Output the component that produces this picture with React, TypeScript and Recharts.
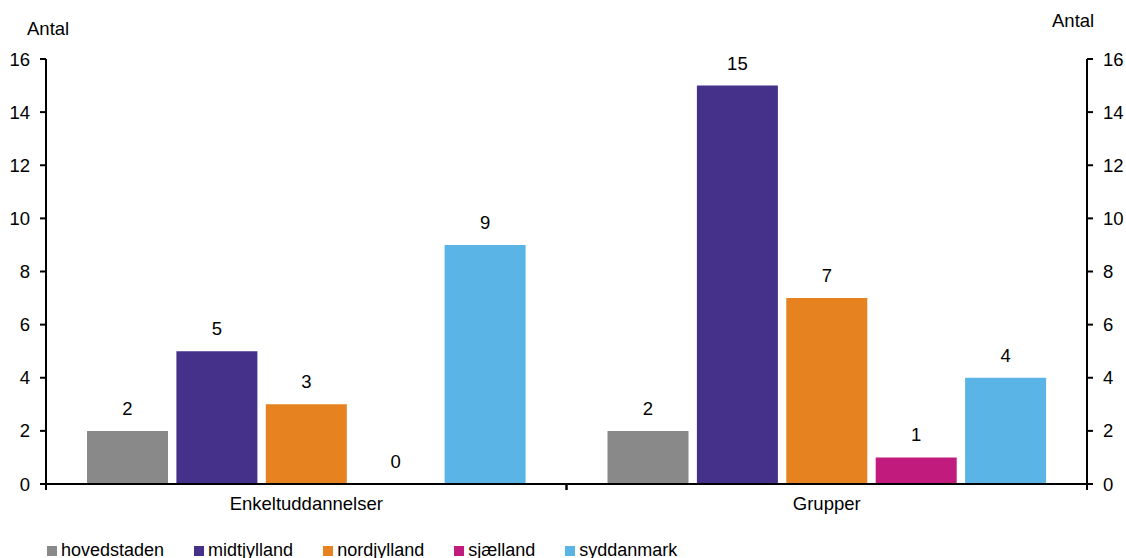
import React from 'react';
import { BarChart, Bar, XAxis, YAxis, LabelList } from 'recharts';

const categories = ['Enkeltuddannelser', 'Grupper'];
const seriesNames = ['hovedstaden', 'midtjylland', 'nordjylland', 'sjælland', 'syddanmark'];
const seriesColors = ['#898989', '#46318A', '#E6821F', '#C11B7E', '#5BB4E6'];
const hovedstaden = [2, 2];
const midtjylland = [5, 15];
const nordjylland = [3, 7];
const sjaelland = [0, 1];
const syddanmark = [9, 4];
const yTicks = [0, 2, 4, 6, 8, 10, 12, 14, 16];
const yLabel = 'Antal';

const seriesValues = [hovedstaden, midtjylland, nordjylland, sjaelland, syddanmark];
const data = categories.map((c, i) => {
  const row: Record<string, any> = { name: c };
  seriesNames.forEach((s, k) => {
    row[s] = seriesValues[k][i];
  });
  return row;
});

const FONT = '"Liberation Sans", Arial, sans-serif';
const FS = 18.5;

const XTick = (props: any) => {
  const { x, y, payload } = props;
  const half = payload && typeof payload.offset === 'number' ? payload.offset : 0;
  const axisY = y - 13;
  return (
    <g>
      {half > 0 && (
        <>
          <line x1={x - half} x2={x - half} y1={axisY} y2={axisY + 6} stroke="#000" strokeWidth={2} />
          <line x1={x + half} x2={x + half} y1={axisY} y2={axisY + 6} stroke="#000" strokeWidth={2} />
        </>
      )}
      <text x={x} y={y} dy="0.71em" textAnchor="middle" fontSize={FS} fill="#000" fontFamily={FONT}>
        {payload.value}
      </text>
    </g>
  );
};

export default function App() {
  return (
    <div style={{ position: 'absolute', left: 0, top: 0, width: 1126, height: 558, fontFamily: FONT, background: '#fff' }}>
      <BarChart
        width={1126}
        height={558}
        data={data}
        margin={{ top: 59, right: 0, bottom: 44, left: 0 }}
        barSize={81}
        barGap={8.4}
      >
        <XAxis
          dataKey="name"
          tickLine={false}
          axisLine={{ stroke: '#000', strokeWidth: 2 }}
          tickSize={6}
          tickMargin={7}
          height={30}
          tick={<XTick />}
          interval={0}
        />
        <YAxis
          yAxisId="left"
          orientation="left"
          type="number"
          width={46}
          domain={[0, 16]}
          allowDataOverflow
          ticks={yTicks}
          interval={0}
          tickSize={6}
          tickMargin={10}
          tick={{ fontSize: FS, fill: '#000', fontFamily: FONT }}
          tickLine={{ stroke: '#000', strokeWidth: 2 }}
          axisLine={{ stroke: '#000', strokeWidth: 2 }}
        />
        <YAxis
          yAxisId="right"
          orientation="right"
          type="number"
          width={39}
          domain={[0, 16]}
          allowDataOverflow
          ticks={yTicks}
          interval={0}
          tickSize={6}
          tickMargin={10}
          tick={{ fontSize: FS, fill: '#000', fontFamily: FONT }}
          tickLine={{ stroke: '#000', strokeWidth: 2 }}
          axisLine={{ stroke: '#000', strokeWidth: 2 }}
        />
        {seriesNames.map((s, k) => (
          <Bar key={s} dataKey={s} yAxisId="left" fill={seriesColors[k]} minPointSize={0.01} isAnimationActive={false}>
            <LabelList
              dataKey={s}
              position="top"
              offset={16}
              style={{ fontSize: FS, fill: '#000', fontFamily: FONT }}
            />
          </Bar>
        ))}
      </BarChart>
      <div style={{ position: 'absolute', left: 27, top: 20, fontSize: FS, lineHeight: '18px', color: '#000' }}>{yLabel}</div>
      <div style={{ position: 'absolute', left: 1052, top: 12, fontSize: FS, lineHeight: '18px', color: '#000' }}>{yLabel}</div>
      <div
        style={{
          position: 'absolute',
          left: 47,
          top: 541,
          display: 'flex',
          alignItems: 'center',
          fontSize: 18,
          lineHeight: '18px',
          color: '#000',
          whiteSpace: 'nowrap',
        }}
      >
        {seriesNames.map((s, k) => (
          <div key={s} style={{ display: 'flex', alignItems: 'center', marginRight: 30 }}>
            <span style={{ display: 'inline-block', width: 10, height: 10, background: seriesColors[k], marginRight: 4, marginTop: 2 }} />
            <span>{s}</span>
          </div>
        ))}
      </div>
    </div>
  );
}
